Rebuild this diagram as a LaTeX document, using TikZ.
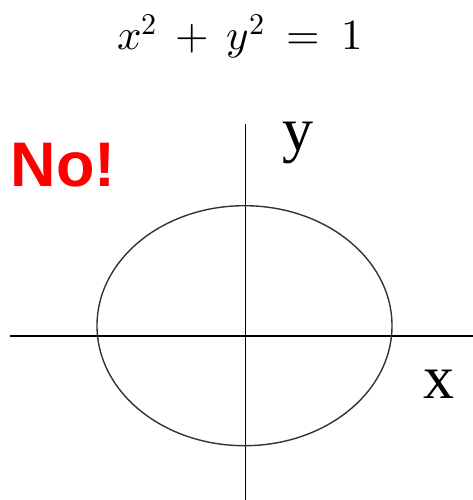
\documentclass[tikz,border=0pt]{standalone}
\usepackage{fontspec}
\usepackage{unicode-math}
\setmathfont{latinmodern-math.otf}
\newfontfamily\labelfont{Liberation Serif}
\newfontfamily\warnfont{Liberation Sans}
\usepackage{xcolor}
\usetikzlibrary{positioning, calc}

\begin{document}
\begin{tikzpicture}[
    x=1pt, y=-1pt,
    axis/.style={line width=1.8pt, color=black},
    curve/.style={line width=1.4pt, color=black!80},
    axislabel/.style={font=\labelfont\fontsize{62}{62}\selectfont, inner sep=0pt, anchor=base},
    warning/.style={font=\warnfont\bfseries\fontsize{63}{63}\selectfont, text=red, inner sep=0pt, anchor=base}
]
\useasboundingbox (0,0) rectangle (473,500);

% equation on top
\node[inner sep=0pt, anchor=base, font=\fontsize{43}{43}\selectfont] (eq) at (240,50)
    {$\medmuskip=7.5mu\thickmuskip=9mu x^2+y^2=1$};

\node[warning] (no) at (63,186.5) {No!};

% axes
\coordinate (xl) at (10,336);
\coordinate (xr) at (473,336);
\coordinate (yt) at (245.5,124);
\coordinate (yb) at (245.5,500);
\draw[axis] (xl) -- (xr);
\draw[axis] (yt) -- (yb);

% the curve
\coordinate (ctr) at (244.5,325.7);
\draw[curve] (ctr) ellipse [x radius=147.5, y radius=120];

\node[axislabel] (ylab) at (297.5,150.5) {y};
\node[axislabel] (xlab) at (439,398) {x};

\end{tikzpicture}
\end{document}
